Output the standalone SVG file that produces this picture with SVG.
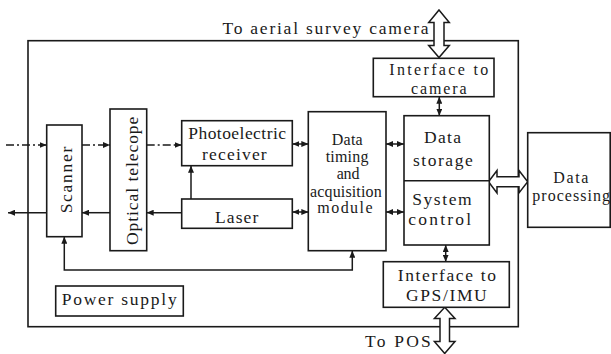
<svg xmlns="http://www.w3.org/2000/svg" width="611" height="354" viewBox="0 0 611 354">
<defs>
<style>
.box{fill:#fff;stroke:#1a1a1a;stroke-width:1.6}
.frame{fill:none;stroke:#1a1a1a;stroke-width:1.6}
.ln{fill:none;stroke:#1a1a1a;stroke-width:1.5}
.dd{fill:none;stroke:#1a1a1a;stroke-width:1.5;stroke-dasharray:8 3 2 3}
.big{fill:#fff;stroke:#1a1a1a;stroke-width:1.5;stroke-linejoin:miter}
.t{font-family:'Liberation Serif','DejaVu Serif','Noto Serif',serif;font-size:17.5px;fill:#1a1a1a}
.s{font-family:'Liberation Serif','DejaVu Serif','Noto Serif',serif;font-size:16px;fill:#1a1a1a}
.c{font-family:'Liberation Serif','DejaVu Serif','Noto Serif',serif;font-size:16px;fill:#1a1a1a}
</style>
<marker id="ah" viewBox="0 0 7 6" refX="7" refY="3" markerWidth="7" markerHeight="6" markerUnits="userSpaceOnUse" orient="auto-start-reverse">
<path d="M0,0 L7,3 L0,6 Z" fill="#1a1a1a"/>
</marker>
</defs>
<rect x="0" y="0" width="611" height="354" fill="#fff"/>

<rect id="frame" class="frame" x="28" y="40.7" width="490.3" height="286"/>

<g id="connectors">
<line class="dd" x1="6" y1="145" x2="46.7" y2="145" marker-end="url(#ah)"/>
<line class="dd" x1="82" y1="145" x2="110" y2="145" marker-end="url(#ah)"/>
<line class="dd" x1="146.7" y1="145" x2="181.7" y2="145" marker-end="url(#ah)"/>
<line class="ln" x1="181.7" y1="212.7" x2="146.7" y2="212.7" marker-end="url(#ah)"/>
<line class="ln" x1="110" y1="212.7" x2="82" y2="212.7" marker-end="url(#ah)"/>
<line class="ln" x1="46.7" y1="212.7" x2="8" y2="212.7" marker-end="url(#ah)"/>
<line class="ln" x1="191" y1="199" x2="191" y2="165.7" marker-end="url(#ah)"/>
<polyline class="ln" points="64.3,236.7 64.3,270 352.3,270 352.3,250.7" marker-start="url(#ah)" marker-end="url(#ah)"/>
<line class="ln" x1="292.3" y1="144" x2="308.3" y2="144" marker-start="url(#ah)" marker-end="url(#ah)"/>
<line class="ln" x1="292.3" y1="212" x2="308.3" y2="212" marker-start="url(#ah)" marker-end="url(#ah)"/>
<line class="ln" x1="386" y1="144" x2="404" y2="144" marker-start="url(#ah)" marker-end="url(#ah)"/>
<line class="ln" x1="386" y1="212" x2="404" y2="212" marker-start="url(#ah)" marker-end="url(#ah)"/>
<line class="ln" x1="439.3" y1="96.7" x2="439.3" y2="115.7" marker-start="url(#ah)" marker-end="url(#ah)"/>
<line class="ln" x1="445.7" y1="245" x2="445.7" y2="261.7" marker-start="url(#ah)" marker-end="url(#ah)"/>
<path class="big" d="M439,10 L449.3,22.5 L444,22.5 L444,45.5 L449.3,45.5 L439,57.5 L428.7,45.5 L434,45.5 L434,22.5 L428.7,22.5 Z"/>
<path class="big" d="M488.5,181.7 L497,170.5 L497,176.7 L519,176.7 L519,170.5 L527.7,181.7 L519,192.9 L519,186.7 L497,186.7 L497,192.9 Z"/>
<path class="big" d="M444.7,307.3 L455,318.5 L449.5,318.5 L449.5,341.5 L455,341.5 L444.7,353.5 L434.4,341.5 L440,341.5 L440,318.5 L434.4,318.5 Z"/>
</g>

<g id="scanner">
<rect class="box" x="46.7" y="125" width="35.3" height="111.7"/>
<text class="t" transform="translate(71.7,213.3) rotate(-90)" textLength="66.6">Scanner</text>
</g>
<g id="optical-telescope">
<rect class="box" x="110" y="109" width="36.7" height="141.7"/>
<text class="t" transform="translate(138.3,245) rotate(-90)" textLength="128.3">Optical telecope</text>
</g>
<g id="photoelectric-receiver">
<rect class="box" x="181.7" y="120.7" width="110.6" height="45"/>
<text class="t" x="188.3" y="139.3" textLength="97.7">Photoelectric</text>
<text class="t" x="202" y="160" textLength="64.7">receiver</text>
</g>
<g id="laser">
<rect class="box" x="181.7" y="199" width="110.6" height="29.3"/>
<text class="t" x="215" y="223.3" textLength="43.3">Laser</text>
</g>
<g id="data-timing">
<rect class="box" x="308.3" y="111.7" width="77.7" height="139"/>
<text class="c" x="331.7" y="145" textLength="31">Data</text>
<text class="c" x="325.7" y="161.7" textLength="42.7">timing</text>
<text class="c" x="336.7" y="179.3" textLength="22.7">and</text>
<text class="c" x="310" y="196.7" textLength="71.7">acquisition</text>
<text class="c" x="317.3" y="213.3" textLength="55.3">module</text>
</g>
<g id="data-storage-system-control">
<rect class="box" x="404" y="115.7" width="85.3" height="129.3"/>
<line class="ln" x1="404" y1="180.7" x2="489.3" y2="180.7"/>
<text class="t" x="424" y="143.3" textLength="37">Data</text>
<text class="t" x="413" y="165.7" textLength="59.7">storage</text>
<text class="t" x="412.3" y="205" textLength="59.3">System</text>
<text class="t" x="408.3" y="225" textLength="62.7">control</text>
</g>
<g id="interface-camera">
<rect class="box" x="373.3" y="58.3" width="120.7" height="38.4"/>
<text class="s" x="389.3" y="74.8" textLength="99">Interface to</text>
<text class="s" x="411" y="93.6" textLength="55.7">camera</text>
</g>
<g id="interface-gps">
<rect class="box" x="383.3" y="261.7" width="126" height="45.6"/>
<text class="t" x="397.7" y="281" textLength="98.3">Interface to</text>
<text class="t" x="406" y="300.7" textLength="80.7">GPS/IMU</text>
</g>
<g id="data-processing">
<rect class="box" x="527.7" y="132.7" width="82.5" height="94.6"/>
<text class="s" x="553.3" y="182.5" textLength="35">Data</text>
<text class="s" x="532.3" y="201" textLength="77.7">processing</text>
</g>
<g id="power-supply">
<rect class="box" x="55.7" y="286" width="127.6" height="30"/>
<text class="t" x="61.7" y="305" textLength="115">Power supply</text>
</g>
<g id="labels">
<text class="t" x="222.5" y="34" textLength="206">To aerial survey camera</text>
<text class="t" x="365" y="346.7" textLength="65.7">To POS</text>
</g>
</svg>
